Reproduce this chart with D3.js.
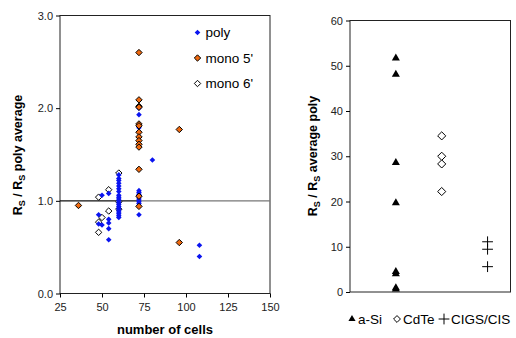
<!DOCTYPE html>
<html>
<head>
<meta charset="utf-8">
<script src="https://cdn.jsdelivr.net/npm/d3@7"></script>
<style>
  body { margin: 0; background: #fff; }
  svg { display: block; font-family: "Liberation Sans", Arial, sans-serif; }
  .tick text { font-size: 11px; fill: #222; }
</style>
</head>
<body>
<svg width="516" height="338"></svg>
<script>
// left chart: Rs ratio vs number of cells
const poly = [
  [48, 0.85], [48, 0.75], [50, 1.06], [50, 0.74],
  [54, 1.08], [54, 0.80], [54, 0.76], [54, 0.70], [54, 0.58],
  [60, 1.28], [60, 1.24], [60, 1.22], [60, 1.19], [60, 1.16], [60, 1.13], [60, 1.10],
  [60, 1.06], [60, 1.04], [60, 1.02], [60, 1.00], [60, 0.98], [60, 0.96], [60, 0.94],
  [60, 0.92], [60, 0.90], [60, 0.88], [60, 0.86], [60, 0.84], [60, 0.82],
  [72, 2.00], [72, 1.93], [72, 1.79], [72, 1.11], [72, 1.09], [72, 1.07], [72, 1.05],
  [72, 1.03], [72, 1.01], [72, 0.99], [72, 0.97], [72, 0.85],
  [80, 1.44], [108, 0.52], [108, 0.40]
];
const mono5 = [
  [36, 0.95], [72, 2.60], [72, 2.09], [72, 2.02], [72, 2.01], [72, 1.83], [72, 1.81],
  [72, 1.74], [72, 1.69], [72, 1.65], [72, 1.61], [72, 1.58], [72, 1.34], [72, 1.05],
  [72, 0.94], [96, 1.77], [96, 0.55]
];
const mono6 = [
  [48, 1.04], [48, 0.77], [48, 0.66], [50, 0.82], [54, 1.12], [54, 0.89],
  [60, 1.30], [60, 0.99], [60, 0.91]
];
const xTicksL = [25, 50, 75, 100, 125, 150];
const yTicksL = [0, 1, 2, 3];

// right chart: thin film technologies
const thinCats = ["a-Si", "CdTe", "CIGS/CIS"];
const aSi = [51.7, 48.1, 28.6, 19.7, 4.5, 4.0, 0.9, 0.6];
const cdTe = [34.5, 30.0, 28.3, 22.2];
const cigs = [11.1, 9.45, 5.6];
const yTicksR = [0, 10, 20, 30, 40, 50, 60];

const svg = d3.select("svg");

// ---------- left ----------
const x = d3.scaleLinear().domain([25, 150]).range([60, 270]);
const y = d3.scaleLinear().domain([0, 3]).range([293.5, 15.5]);

svg.append("rect")
  .attr("x", 60).attr("y", 15.5).attr("width", 210).attr("height", 278)
  .attr("fill", "none").attr("stroke", "#222");

svg.append("g").attr("transform", "translate(0,293.5)")
  .call(d3.axisBottom(x).tickValues(xTicksL).tickSize(4).tickPadding(6))
  .call(g => g.select(".domain").remove());
svg.append("g").attr("transform", "translate(60,0)")
  .call(d3.axisLeft(y).tickValues(yTicksL).tickSize(4).tickFormat(d3.format(".1f")))
  .call(g => g.select(".domain").remove());

// reference line at 1.0
svg.append("line")
  .attr("x1", x(25)).attr("x2", x(72)).attr("y1", y(1)).attr("y2", y(1))
  .attr("stroke", "#111").attr("stroke-width", 1.3);
svg.append("line")
  .attr("x1", x(72)).attr("x2", x(150)).attr("y1", y(1)).attr("y2", y(1))
  .attr("stroke", "#777").attr("stroke-width", 1.3);

const diamond = s => d3.symbol(d3.symbolDiamond2, s)();

svg.append("g").selectAll("path").data(mono6).join("path")
  .attr("d", diamond(26))
  .attr("transform", d => `translate(${x(d[0])},${y(d[1])})`)
  .attr("fill", "#fff").attr("stroke", "#000").attr("stroke-width", 1);
svg.append("g").selectAll("path").data(poly).join("path")
  .attr("d", diamond(20))
  .attr("transform", d => `translate(${x(d[0])},${y(d[1])})`)
  .attr("fill", "#0a14f0");
svg.append("g").selectAll("path").data(mono5).join("path")
  .attr("d", diamond(26))
  .attr("transform", d => `translate(${x(d[0])},${y(d[1])})`)
  .attr("fill", "#f06a10").attr("stroke", "#000").attr("stroke-width", 1);

// legend
const legL = [
  { name: "poly", fill: "#0a14f0", stroke: "none", size: 20 },
  { name: "mono 5'", fill: "#f06a10", stroke: "#000", size: 26 },
  { name: "mono 6'", fill: "#fff", stroke: "#000", size: 26 }
];
const lg = svg.append("g").selectAll("g").data(legL).join("g")
  .attr("transform", (d, i) => `translate(197.5,${32.5 + i * 25.5})`);
lg.append("path").attr("d", d => diamond(d.size))
  .attr("fill", d => d.fill).attr("stroke", d => d.stroke);
lg.append("text").attr("x", 8).attr("dy", "0.35em")
  .attr("font-size", 13.5).text(d => d.name);

// axis titles
svg.append("text")
  .attr("x", 165).attr("y", 334)
  .attr("text-anchor", "middle").attr("font-weight", "bold").attr("font-size", 13)
  .text("number of cells");

function rsTitle(cx, cy, tail) {
  const t = svg.append("text")
    .attr("transform", `translate(${cx},${cy}) rotate(-90)`)
    .attr("text-anchor", "middle").attr("font-weight", "bold").attr("font-size", 12.5);
  t.append("tspan").text("R");
  t.append("tspan").attr("font-size", 9).attr("dy", 3).text("S");
  t.append("tspan").attr("dy", -3).text(" / R");
  t.append("tspan").attr("font-size", 9).attr("dy", 3).text("S");
  t.append("tspan").attr("dy", -3).text(" " + tail);
}
rsTitle(22, 155, "poly average");

// ---------- right ----------
const xr = d3.scaleLinear().domain([0, 3.5]).range([350, 510.5]);
const yr = d3.scaleLinear().domain([0, 60]).range([292, 20.5]);

svg.append("rect")
  .attr("x", 350).attr("y", 20.5).attr("width", 160.5).attr("height", 271.5)
  .attr("fill", "none").attr("stroke", "#222");
svg.append("g").attr("transform", "translate(350,0)")
  .call(d3.axisLeft(yr).tickValues(yTicksR).tickSize(4))
  .call(g => g.select(".domain").remove());

svg.append("g").selectAll("path").data(aSi).join("path")
  .attr("d", d3.symbol(d3.symbolTriangle, 28)())
  .attr("transform", d => `translate(${xr(1)},${yr(d)})`)
  .attr("fill", "#000");
svg.append("g").selectAll("path").data(cdTe).join("path")
  .attr("d", diamond(42))
  .attr("transform", d => `translate(${xr(2)},${yr(d)})`)
  .attr("fill", "#fff").attr("stroke", "#000");
svg.append("g").selectAll("path").data(cigs).join("path")
  .attr("d", d3.symbol(d3.symbolPlus, 40)())
  .attr("transform", d => `translate(${xr(3)},${yr(d)})`)
  .attr("fill", "none").attr("stroke", "#000");

rsTitle(317, 156, "average poly");

// bottom legend
const legR = [
  { x: 352, sym: d3.symbol(d3.symbolTriangle, 22)(), fill: "#000", stroke: "none" },
  { x: 397, sym: diamond(30), fill: "#fff", stroke: "#000" },
  { x: 444, sym: d3.symbol(d3.symbolPlus, 40)(), fill: "none", stroke: "#000" }
];
const rg = svg.append("g").selectAll("g").data(legR).join("g")
  .attr("transform", d => `translate(${d.x},319)`);
rg.append("path").attr("d", d => d.sym)
  .attr("fill", d => d.fill).attr("stroke", d => d.stroke);
rg.append("text").attr("x", (d, i) => i === 2 ? 7 : 6).attr("dy", "0.35em").attr("font-size", 13.5)
  .text((d, i) => thinCats[i]);
</script>
</body>
</html>
